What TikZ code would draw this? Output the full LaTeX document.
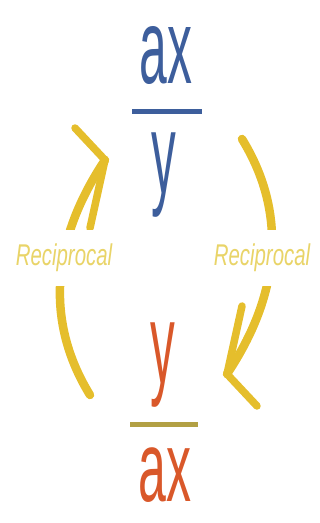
\documentclass[tikz,border=0pt]{standalone}
\usepackage{fontspec}
\usepackage{graphicx}
\setmainfont{Liberation Sans}
\definecolor{topblue}{HTML}{3D5E9C}
\definecolor{botorange}{HTML}{D9582A}
\definecolor{barolive}{HTML}{B2A044}
\definecolor{arrowgold}{HTML}{E5BE2C}
\definecolor{labelgold}{HTML}{E9D468}
\tikzset{
  bigtxt/.style={inner sep=0pt, anchor=base, font=\fontsize{106}{106}\selectfont},
  lowtxt/.style={inner sep=0pt, anchor=base, font=\fontsize{100}{100}\selectfont},
  ytxt/.style={inner sep=0pt, anchor=base, font=\fontsize{115}{115}\selectfont},
  fracbar/.style={line width=5pt},
  recarc/.style={draw=arrowgold, line width=8.5pt, line cap=round},
  barb/.style={draw=arrowgold, line width=7.5pt, line cap=round},
  reclabel/.style={fill=white, inner sep=3pt, minimum height=56pt, text=labelgold,
    font=\fontsize{30}{30}\selectfont\itshape}
}
\begin{document}
\begin{tikzpicture}[x=1pt,y=-1pt]
\useasboundingbox (0,0) rectangle (320,523);
% arrows (clockwise cycle)
\coordinate (ltail) at (90,395);
\coordinate (ltip) at (105,160);
\coordinate (lb1) at (75,128);
\coordinate (lb2) at (90,228);
\coordinate (rtail) at (242,139);
\coordinate (rtip) at (227,374);
\coordinate (rb1) at (257,406);
\coordinate (rb2) at (242,306);
\draw[recarc] (ltail) .. controls (50,330) and (45,250) .. (ltip);
\draw[barb] (ltip) -- (lb1);
\draw[barb] (ltip) -- (lb2);
\draw[recarc] (rtail) .. controls (282,204) and (287,284) .. (rtip);
\draw[barb] (rtip) -- (rb1);
\draw[barb] (rtip) -- (rb2);
\node[reclabel] (lrec) at (64,258) {\scalebox{0.68}[1]{Reciprocal}};
\node[reclabel] (rrec) at (262,258) {\scalebox{0.68}[1]{Reciprocal}};
% top fraction
\node[bigtxt, text=topblue] (tnum) at (166,83) {\scalebox{0.47}[1]{ax}};
\coordinate (tbl) at (132,111);
\coordinate (tbr) at (202,111);
\draw[fracbar, topblue] (tbl) -- (tbr);
\node[ytxt, text=topblue] (tden) at (164,193) {\scalebox{0.43}[1]{y}};
% bottom fraction
\node[ytxt, text=botorange] (bnum) at (163,383) {\scalebox{0.43}[1]{y}};
\coordinate (bbl) at (130,424);
\coordinate (bbr) at (198,424);
\draw[fracbar, barolive] (bbl) -- (bbr);
\node[lowtxt, text=botorange] (bden) at (165,501) {\scalebox{0.5}[1]{ax}};
\end{tikzpicture}
\end{document}
